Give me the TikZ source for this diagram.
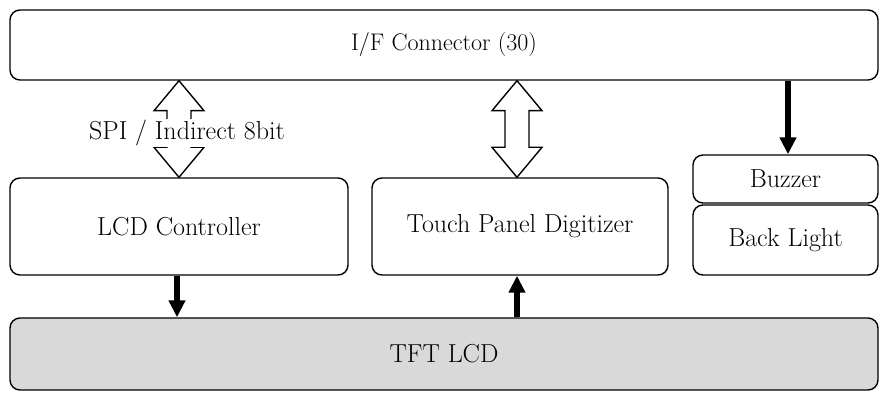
\documentclass[tikz,border=0pt]{standalone}
\usetikzlibrary{arrows.meta,calc}
\definecolor{lcdgray}{HTML}{D9D9D9}
\tikzset{
  box/.style={draw=black, line width=1.4pt, rounded corners=10pt, fill=white, inner sep=0pt, font=\fontsize{26}{30}\selectfont},
  harrow/.style={draw=black, line width=1.4pt, fill=white, line join=miter},
  thickarrow/.style={line width=6pt, -{Triangle[length=17pt,width=16pt]}},
  lbl/.style={font=\fontsize{26}{30}\selectfont, fill=white, inner sep=1pt}
}
\newcommand\hollowdarrow[2]{%
  \draw[harrow] let \p1=(#1), \p2=(#2) in
  (\x1,\y1) -- (\x1+25pt,\y1-30pt) -- (\x1+12pt,\y1-30pt) -- (\x1+12pt,\y2+30pt)
  -- (\x1+25pt,\y2+30pt) -- (\x1,\y2) -- (\x1-25pt,\y2+30pt) -- (\x1-12pt,\y2+30pt)
  -- (\x1-12pt,\y1-30pt) -- (\x1-25pt,\y1-30pt) -- cycle;}
\begin{document}
\begin{tikzpicture}[x=1pt,y=-1pt]
\useasboundingbox (0,0) rectangle (879,395);
% boxes
\node[box, minimum width=868, minimum height=70, font=\fontsize{24}{28}\selectfont] (ifc) at (444,45) {I/F Connector (30)};
\node[box, minimum width=338, minimum height=97] (lcd) at (179,226.5) {LCD Controller};
\node[box, minimum width=296, minimum height=97] (tpd) at (520,226.5) {Touch Panel Digitizer};
\node[box, minimum width=185, minimum height=48] (buz) at (785.5,179) {Buzzer};
\node[box, minimum width=185, minimum height=70] (bl) at (785.5,240) {Back Light};
\node[box, fill=lcdgray, minimum width=868, minimum height=72] (tft) at (444,354) {TFT LCD};
% coordinates for the hollow arrows
\coordinate (a1t) at (ifc.south -| lcd.north);
\coordinate (a1b) at (lcd.north);
\coordinate (a2t) at (ifc.south -| 517,0);
\coordinate (a2b) at (tpd.north -| 517,0);
\hollowdarrow{a1t}{a1b}
\hollowdarrow{a2t}{a2b}
\node[lbl] (spi) at (187,133) {SPI / Indirect 8bit};
% solid arrows
\draw[thickarrow] (ifc.south -| 788,0) -- (buz.north -| 788,0);
\draw[thickarrow] (lcd.south -| 177,0) -- (tft.north -| 177,0);
\draw[thickarrow] (tft.north -| 517,0) -- (tpd.south -| 517,0);
\end{tikzpicture}
\end{document}
